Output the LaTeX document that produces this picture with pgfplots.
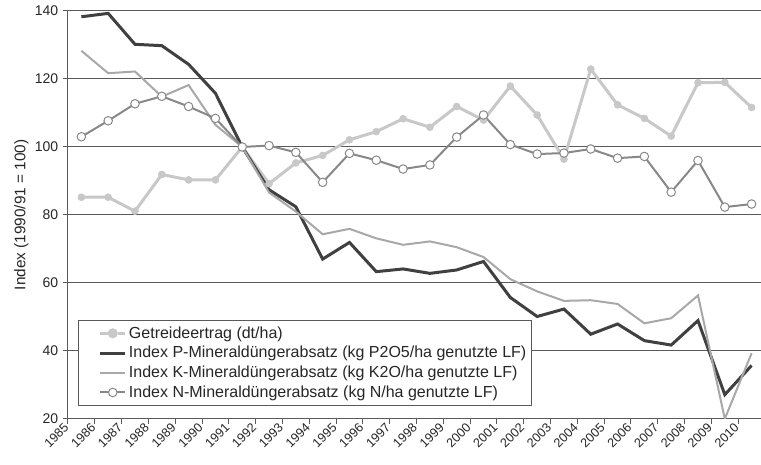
\documentclass[border=0pt]{standalone}
\usepackage{fontspec}
\setmainfont{Liberation Sans}
\usepackage{pgfplots}
\usepackage{pgfplotstable}
\pgfplotsset{compat=1.18}

\definecolor{gridc}{HTML}{5A5A5A}
\definecolor{getr}{HTML}{C8C8C8}
\definecolor{pcol}{HTML}{404040}
\definecolor{kcol}{HTML}{A8A8A8}
\definecolor{ncol}{HTML}{888888}
\definecolor{txt}{HTML}{262626}

% year, Getreide, P, K, N
\pgfplotstableread{
year getr  p     k     n
1985 85.2  138.3 128.3 103.0
1986 85.2  139.3 121.7 107.7
1987 81.1  130.2 122.2 112.7
1988 91.9  129.8 114.8 114.9
1989 90.3  124.3 118.2 111.9
1990 90.3  115.8 106.5 108.4
1991 100.0 100.0 100.0 100.0
1992 89.2  87.4  86.6  100.4
1993 95.3  82.4  81.0  98.4
1994 97.5  67.0  74.3  89.6
1995 102.1 71.9  75.9  98.1
1996 104.5 63.3  73.1  96.1
1997 108.3 64.1  71.2  93.5
1998 105.8 62.8  72.2  94.7
1999 111.9 63.8  70.5  102.9
2000 107.9 66.3  67.6  109.4
2001 117.9 55.7  61.1  100.7
2002 109.4 50.1  57.5  97.9
2003 96.4  52.3  54.7  98.2
2004 122.9 44.9  54.9  99.4
2005 112.4 47.9  53.8  96.7
2006 108.4 43.0  48.1  97.2
2007 103.2 41.7  49.6  86.7
2008 118.9 48.9  56.3  96.0
2009 119.0 27.1  20.0  82.3
2010 111.6 35.7  39.3  83.2
}\datatable

\begin{document}
\begin{tikzpicture}
\begin{axis}[
    scale only axis,
    width=520pt, height=306pt,
    xmin=0, xmax=25.85,
    ymin=20, ymax=140,
    ytick={20,40,...,140},
    xtick={0,...,25},
    xticklabel={\pgfmathparse{int(1985+\tick)}\pgfmathresult},
    xticklabel style={rotate=45, anchor=east, inner sep=1.5pt, font=\fontsize{9.5}{11}\selectfont, color=txt},
    yticklabel style={font=\fontsize{10.5}{12}\selectfont, color=txt},
    /pgf/number format/assume math mode=true,
    axis x line*=bottom,
    axis y line*=left,
    axis line style={-, gridc, line width=0.75pt},
    tick align=outside,
    major tick length=3.75pt,
    tick style={gridc, line width=0.75pt},
    ymajorgrids,
    grid style={gridc, line width=0.75pt},
    ylabel={Index (1990/91 = 100)},
    ylabel style={font=\fontsize{11.5}{13}\selectfont, color=txt, yshift=-2pt},
    legend cell align=left,
    legend style={
        at={(0.0144,0.032)}, anchor=south west,
        draw=gridc, line width=0.75pt, fill=white,
        font=\fontsize{12}{14}\selectfont, text=txt,
        row sep=0.6pt, inner xsep=2pt, inner ysep=2.5pt,
        nodes={inner xsep=1.5pt, inner ysep=2pt},
    },
]
\addplot[getr, line width=2.25pt, mark=*, mark size=2.6pt, mark options={fill=getr, draw=getr, line width=0.5pt},
    legend image code/.code={
        \draw[white, line width=0.01pt] (0cm,0cm) -- (0.5cm,0cm);
        \draw[getr, line width=2.25pt] (0.5cm,0cm) -- (0.7cm,0cm);
        \draw[getr, line width=2.25pt] (0.97cm,0cm) -- (1.17cm,0cm);
        \fill[getr] (0.835cm,0cm) circle (2.6pt);
    }]
    table[x expr=\thisrow{year}-1984.5, y=getr] {\datatable};
\addlegendentry{Getreideertrag (dt/ha)}
\addplot[pcol, line width=2.25pt, no marks,
    legend image code/.code={
        \draw[white, line width=0.01pt] (0cm,0cm) -- (0.5cm,0cm);
        \draw[pcol, line width=2.25pt] (0.5cm,0cm) -- (1.17cm,0cm);
    }]
    table[x expr=\thisrow{year}-1984.5, y=p] {\datatable};
\addlegendentry{Index P-Mineraldüngerabsatz (kg P2O5/ha genutzte LF)}
\addplot[kcol, line width=1.5pt, no marks,
    legend image code/.code={
        \draw[white, line width=0.01pt] (0cm,0cm) -- (0.5cm,0cm);
        \draw[kcol, line width=1.5pt] (0.5cm,0cm) -- (1.17cm,0cm);
    }]
    table[x expr=\thisrow{year}-1984.5, y=k] {\datatable};
\addlegendentry{Index K-Mineraldüngerabsatz (kg K2O/ha genutzte LF)}
\addplot[ncol, line width=1.5pt, mark=*, mark size=3.2pt, mark options={fill=white, draw=ncol, line width=0.75pt},
    legend image code/.code={
        \draw[white, line width=0.01pt] (0cm,0cm) -- (0.5cm,0cm);
        \draw[ncol, line width=1.5pt] (0.5cm,0cm) -- (1.17cm,0cm);
        \filldraw[fill=white, draw=ncol, line width=0.75pt] (0.835cm,0cm) circle (3.2pt);
    }]
    table[x expr=\thisrow{year}-1984.5, y=n] {\datatable};
\addlegendentry{Index N-Mineraldüngerabsatz (kg N/ha genutzte LF)}
\end{axis}
\pgfresetboundingbox
\path[use as bounding box] ([shift={(-51pt,-34.5pt)}]current axis.south west) rectangle ([shift={(0pt,8.25pt)}]current axis.north east);
\end{tikzpicture}
\end{document}
